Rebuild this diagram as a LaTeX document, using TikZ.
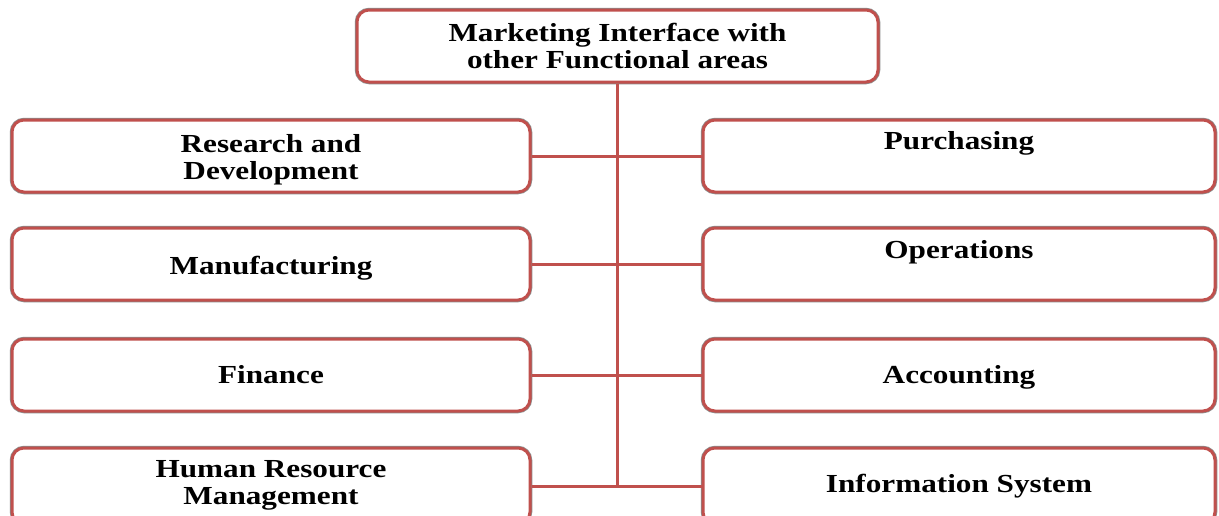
\documentclass[tikz,border=0pt]{standalone}
\usepackage{fontspec}
\newfontfamily\boxfont{Liberation Serif}[FakeStretch=1.2]
\definecolor{linkred}{HTML}{C0504D}
% centred block of lines, drawn a little lower than its box centre
\newcommand\arealines[2][3pt]{\raisebox{-#1}[\height][\depth]{\begin{tabular}{@{}c@{}}#2\end{tabular}}}
\begin{document}
\begin{tikzpicture}[x=1pt, y=-1pt,
  area/.style={draw=linkred, line width=3pt, rounded corners=12pt, fill=white,
    preaction={draw=black!45, line width=4.5pt},
    minimum height=72pt, inner sep=0pt,
    font=\boxfont\bfseries\fontsize{26}{27}\selectfont},
  leftbox/.style={area, minimum width=518pt},
  rightbox/.style={area, minimum width=512pt},
  link/.style={draw=linkred, line width=3pt}]
  \useasboundingbox[fill=white] (0,0) rectangle (1219,515);

  % central box
  \node[area, minimum width=521pt] (top) at (617.5,46) {\arealines[4pt]{Marketing Interface with\\other Functional areas}};

  % left column
  \node[leftbox] (rd) at (271,156) {\arealines[5pt]{Research and\\Development}};
  \node[leftbox] (mf) at (271,264) {\arealines[5.5pt]{Manufacturing}};
  \node[leftbox] (fi) at (271,375) {\arealines[3pt]{Finance}};
  \node[leftbox, minimum height=76pt] (hr) at (271,486) {\arealines[0pt]{Human Resource\\Management}};

  % right column (the two upper labels sit on the first of two lines)
  \node[rightbox] (pu) at (959,156) {\arealines[2pt]{Purchasing\\\strut}};
  \node[rightbox] (op) at (959,264) {\arealines[3pt]{Operations\\\strut}};
  \node[rightbox] (ac) at (959,375) {\arealines[3pt]{Accounting}};
  \node[rightbox, minimum height=76pt] (is) at (959,486) {\arealines[1.5pt]{Information System}};

  % spine and branches
  \coordinate (spineend) at (top.south |- hr.east);
  \draw[link] (top.south) -- (spineend);
  \draw[link] (rd.east) -- (pu.west);
  \draw[link] (mf.east) -- (op.west);
  \draw[link] (fi.east) -- (ac.west);
  \draw[link] (hr.east) -- (is.west);
\end{tikzpicture}
\end{document}
